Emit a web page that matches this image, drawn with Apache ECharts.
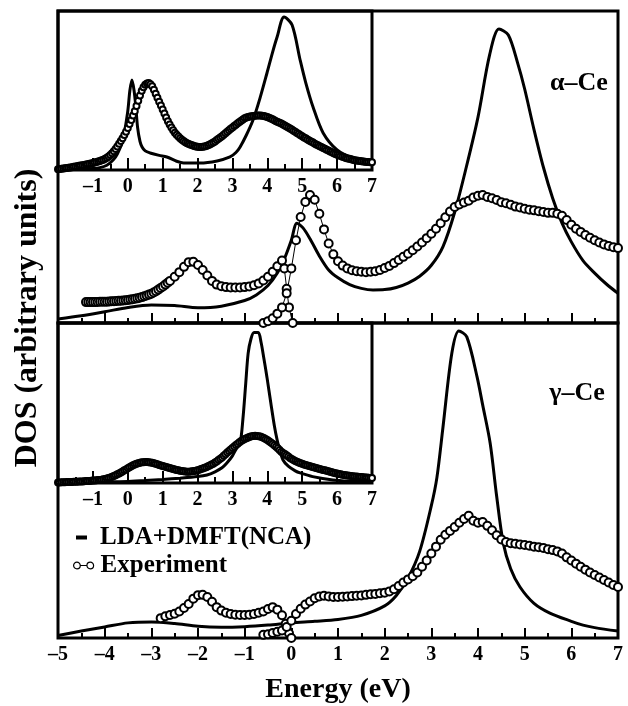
<!DOCTYPE html>
<html>
<head>
<meta charset="utf-8">
<script src="https://cdn.jsdelivr.net/npm/echarts@6/dist/echarts.min.js"></script>
<style>html,body{margin:0;padding:0;background:#fff}#c{width:628px;height:706px}</style>
</head>
<body>
<div id="c"></div>
<script>
// ---------- DATA (energy in eV, DOS in arbitrary units, 0-100 per panel) ----------
const mainTicks = [-5,-4,-3,-2,-1,0,1,2,3,4,5,6,7];
const insetTicks = [-1,0,1,2,3,4,5,6,7];

// alpha-Ce, main panel
const alphaTheory = [[-5,1.3],[-4.5,2.3],[-4,3.6],[-3.5,5.0],[-3,5.8],[-2.5,5.6],[-2,4.9],[-1.5,5.4],[-1,7.2],[-0.75,9.0],[-0.5,12.0],[-0.3,16.0],[-0.15,20.5],[0,26.5],[0.12,32.0],[0.25,30.5],[0.4,27.0],[0.6,21.5],[0.8,17.0],[1.0,14.5],[1.25,12.3],[1.5,11.1],[1.75,10.6],[2.0,10.7],[2.25,11.4],[2.5,12.8],[2.75,15.0],[3.0,18.5],[3.25,24.5],[3.5,35.5],[3.75,50],[4.0,66],[4.25,86],[4.45,94.2],[4.65,92.3],[4.85,83.3],[5.0,75],[5.2,62],[5.4,50],[5.6,40],[5.8,32],[6.0,26],[6.25,20],[6.5,16],[6.75,12.5],[7.0,9.5]];
const alphaExpA = [[-4.4,6.7],[-4.35,6.7],[-4.3,6.7],[-4.25,6.7],[-4.2,6.7],[-4.15,6.75],[-4.1,6.8],[-4.05,6.8],[-4.0,6.8],[-3.95,6.85],[-3.9,6.9],[-3.85,6.95],[-3.8,7.0],[-3.75,7.05],[-3.7,7.1],[-3.65,7.15],[-3.6,7.2],[-3.55,7.3],[-3.5,7.4],[-3.45,7.5],[-3.4,7.6],[-3.35,7.75],[-3.3,7.9],[-3.25,8.1],[-3.2,8.3],[-3.15,8.55],[-3.1,8.8],[-3.05,9.1],[-3.0,9.4],[-2.95,9.8],[-2.9,10.2],[-2.85,10.7],[-2.8,11.2],[-2.75,11.7],[-2.7,12.3],[-2.65,12.9],[-2.6,13.5],[-2.5,14.8],[-2.4,16.3],[-2.3,18.0],[-2.2,19.5],[-2.1,19.6],[-2.0,18.6],[-1.9,17.0],[-1.8,15.2],[-1.7,13.5],[-1.6,12.3],[-1.5,11.8],[-1.4,11.5],[-1.3,11.4],[-1.2,11.4],[-1.1,11.4],[-1.0,11.5],[-0.9,11.7],[-0.8,12.1],[-0.7,12.7],[-0.6,13.6],[-0.5,14.8],[-0.4,16.4],[-0.3,18.2],[-0.2,20.0],[-0.15,17.5],[-0.1,11.0],[-0.05,5.0],[0.03,0]];
const alphaExpB = [[-0.6,0],[-0.5,0.6],[-0.4,1.5],[-0.3,3.0],[-0.2,5.0],[-0.1,9.5],[0.0,17.5],[0.1,26.5],[0.2,34.0],[0.3,38.8],[0.4,41.0],[0.5,39.5],[0.6,35.0],[0.7,30.0],[0.8,25.5],[0.9,22.0],[1.0,19.8],[1.1,18.4],[1.2,17.5],[1.3,16.9],[1.4,16.6],[1.5,16.4],[1.6,16.3],[1.7,16.4],[1.8,16.6],[1.9,17.0],[2.0,17.6],[2.1,18.3],[2.2,19.2],[2.3,20.2],[2.4,21.2],[2.5,22.2],[2.6,23.3],[2.7,24.5],[2.8,25.8],[2.9,27.2],[3.0,28.6],[3.1,30.2],[3.2,32.0],[3.3,33.9],[3.4,35.7],[3.5,37.2],[3.6,38.0],[3.7,38.6],[3.8,39.2],[3.9,40.2],[4.0,40.8],[4.1,41.0],[4.2,40.4],[4.3,40.0],[4.4,39.4],[4.5,38.7],[4.6,38.4],[4.7,37.9],[4.8,37.3],[4.9,37.0],[5.0,36.6],[5.1,36.3],[5.2,36.1],[5.3,35.8],[5.4,35.6],[5.5,35.3],[5.6,35.3],[5.7,35.0],[5.8,34.4],[5.9,33.0],[6.0,31.5],[6.1,30.2],[6.2,29.2],[6.3,28.2],[6.4,27.3],[6.5,26.5],[6.6,25.8],[6.7,25.2],[6.8,24.7],[6.9,24.3],[7.0,24.0]];

// gamma-Ce, main panel
const gammaTheory = [[-5,0.8],[-4.5,2.2],[-4,3.5],[-3.5,4.8],[-3,5.1],[-2.5,4.6],[-2,3.7],[-1.5,3.4],[-1,3.6],[-0.5,4.1],[0,4.8],[0.5,5.3],[1.0,5.9],[1.5,7.2],[2.0,10.2],[2.25,13.5],[2.5,19],[2.75,27.5],[3.0,42],[3.12,51],[3.25,67],[3.44,90.5],[3.59,97.5],[3.76,95.6],[3.98,82.9],[4.1,74],[4.26,61.9],[4.4,45],[4.54,30.2],[4.7,22],[4.9,16.2],[5.2,11],[5.54,7.9],[6.0,5.3],[6.25,4.1],[6.5,3.3],[7.0,2.2]];
const gammaExpA = [[-2.8,6.3],[-2.7,6.9],[-2.6,7.3],[-2.5,7.7],[-2.4,8.4],[-2.3,9.5],[-2.2,10.8],[-2.1,12.5],[-2.0,13.6],[-1.9,13.7],[-1.8,13.0],[-1.7,11.5],[-1.6,9.8],[-1.5,8.7],[-1.4,8.0],[-1.3,7.6],[-1.2,7.4],[-1.1,7.3],[-1.0,7.3],[-0.9,7.4],[-0.8,7.6],[-0.7,8.0],[-0.6,8.4],[-0.5,9.2],[-0.4,9.8],[-0.3,9.0],[-0.2,7.2],[-0.12,4.5],[-0.05,1.5],[0.0,0]];
const gammaExpB = [[-0.6,1.0],[-0.5,1.2],[-0.4,1.6],[-0.3,2.0],[-0.2,2.4],[-0.1,3.5],[0.0,5.5],[0.1,7.6],[0.2,9.3],[0.3,10.6],[0.4,11.6],[0.5,12.6],[0.6,13.2],[0.7,13.4],[0.8,13.2],[0.9,13.0],[1.0,13.0],[1.1,13.1],[1.2,13.2],[1.3,13.3],[1.4,13.4],[1.5,13.5],[1.6,13.7],[1.7,13.9],[1.8,14.0],[1.9,14.2],[2.0,14.4],[2.1,14.8],[2.2,15.5],[2.3,16.5],[2.4,17.6],[2.5,18.6],[2.6,19.6],[2.7,20.8],[2.8,22.6],[2.9,24.6],[3.0,26.8],[3.1,29.0],[3.2,31.2],[3.3,32.8],[3.4,34.0],[3.5,35.2],[3.6,36.6],[3.7,37.8],[3.8,38.8],[3.9,37.2],[4.0,36.6],[4.1,36.8],[4.2,35.6],[4.3,34.2],[4.4,32.6],[4.5,31.3],[4.6,30.5],[4.7,30.1],[4.8,29.9],[4.9,29.7],[5.0,29.5],[5.1,29.3],[5.2,29.0],[5.3,28.8],[5.4,28.6],[5.5,28.2],[5.6,27.9],[5.7,27.5],[5.8,26.8],[5.9,25.6],[6.0,24.6],[6.1,23.6],[6.2,22.6],[6.3,21.7],[6.4,20.8],[6.5,20.0],[6.6,19.2],[6.7,18.4],[6.8,17.6],[6.9,16.8],[7.0,16.2]];

// alpha-Ce, inset
const alphaInsetTheory = [[-2,0],[-1.5,0.5],[-1.0,1.0],[-0.8,1.5],[-0.6,3.0],[-0.42,6.3],[-0.3,10],[-0.14,18.9],[0.0,37],[0.06,50],[0.12,56.6],[0.18,50],[0.23,40],[0.28,27],[0.35,18],[0.41,14.5],[0.5,12],[0.64,10.7],[0.9,9.2],[1.12,8.2],[1.4,5.5],[1.6,4.4],[2.07,4.4],[2.56,5.7],[2.93,8.2],[3.1,11],[3.22,14.5],[3.4,22],[3.59,31.4],[3.8,46],[3.99,61],[4.15,74],[4.28,83.6],[4.48,96.2],[4.71,91.2],[4.94,69.2],[5.1,55],[5.31,39.6],[5.6,23.3],[6.0,12.6],[6.45,7.5],[7.0,4.8]];
const alphaInsetExp = [[-2.0,0.5],[-1.95,0.65],[-1.9,0.8],[-1.85,0.95],[-1.8,1.1],[-1.75,1.25],[-1.7,1.4],[-1.65,1.6],[-1.6,1.8],[-1.55,2.0],[-1.5,2.2],[-1.45,2.4],[-1.4,2.6],[-1.35,2.8],[-1.3,3.0],[-1.25,3.2],[-1.2,3.4],[-1.15,3.65],[-1.1,3.9],[-1.05,4.15],[-1.0,4.4],[-0.95,4.7],[-0.9,5.0],[-0.85,5.35],[-0.8,5.7],[-0.75,6.1],[-0.7,6.5],[-0.65,7.1],[-0.6,7.7],[-0.55,8.5],[-0.5,9.4],[-0.45,10.5],[-0.4,11.8],[-0.35,13.2],[-0.3,14.8],[-0.25,16.5],[-0.2,18.2],[-0.15,20.0],[-0.1,22.0],[-0.05,24.1],[0.0,26.4],[0.05,28.9],[0.1,31.5],[0.15,34.2],[0.2,37.0],[0.25,40.2],[0.3,43.5],[0.35,46.8],[0.4,49.8],[0.45,52.0],[0.5,53.6],[0.55,54.4],[0.6,54.7],[0.65,54.0],[0.7,52.6],[0.75,50.5],[0.8,48.0],[0.85,45.5],[0.9,43.0],[0.95,40.5],[1.0,38.0],[1.05,35.5],[1.1,33.0],[1.15,30.7],[1.2,28.6],[1.25,26.7],[1.3,25.0],[1.35,23.5],[1.4,22.2],[1.45,21.0],[1.5,20.0],[1.55,19.1],[1.6,18.2],[1.65,17.5],[1.7,16.9],[1.75,16.4],[1.8,15.9],[1.85,15.5],[1.9,15.1],[1.95,14.8],[2.0,14.6],[2.05,14.5],[2.1,14.5],[2.15,14.6],[2.2,14.8],[2.25,15.1],[2.3,15.5],[2.35,16.0],[2.4,16.6],[2.45,17.3],[2.5,18.0],[2.55,18.8],[2.6,19.6],[2.65,20.4],[2.7,21.3],[2.75,22.2],[2.8,23.1],[2.85,24.0],[2.9,25.0],[2.95,25.9],[3.0,26.8],[3.05,27.7],[3.1,28.5],[3.15,29.4],[3.2,30.2],[3.25,31.0],[3.3,31.8],[3.35,32.5],[3.4,33.0],[3.45,33.3],[3.5,33.6],[3.55,33.8],[3.6,34.0],[3.65,34.1],[3.7,34.2],[3.75,34.2],[3.8,34.2],[3.85,34.1],[3.9,34.0],[3.95,33.7],[4.0,33.3],[4.05,32.9],[4.1,32.4],[4.15,31.9],[4.2,31.3],[4.25,30.7],[4.3,30.2],[4.35,29.7],[4.4,29.2],[4.45,28.6],[4.5,28.0],[4.55,27.4],[4.6,26.8],[4.65,26.1],[4.7,25.4],[4.75,24.7],[4.8,24.0],[4.85,23.3],[4.9,22.6],[4.95,21.9],[5.0,21.2],[5.05,20.5],[5.1,19.9],[5.15,19.2],[5.2,18.6],[5.25,18.0],[5.3,17.4],[5.35,16.7],[5.4,16.1],[5.45,15.5],[5.5,15.0],[5.55,14.4],[5.6,13.9],[5.65,13.3],[5.7,12.8],[5.75,12.2],[5.8,11.7],[5.85,11.1],[5.9,10.6],[5.95,10.1],[6.0,9.6],[6.05,9.2],[6.1,8.8],[6.15,8.4],[6.2,8.0],[6.25,7.6],[6.3,7.3],[6.35,7.0],[6.4,6.7],[6.45,6.4],[6.5,6.2],[6.55,6.0],[6.6,5.8],[6.65,5.6],[6.7,5.5],[6.75,5.3],[6.8,5.2],[6.85,5.1],[6.9,5.0],[6.95,4.9],[7.0,4.8]];

// gamma-Ce, inset
const gammaInsetTheory = [[-2,0.3],[-1.5,0.5],[-1.0,0.6],[-0.5,0.8],[0,1.0],[0.5,1.5],[1.0,2.2],[1.5,3.0],[2.0,4.0],[2.27,5.0],[2.5,7.0],[2.7,9.5],[2.84,12.5],[3.0,17],[3.1,21],[3.22,25],[3.3,40],[3.38,62],[3.45,81],[3.53,90],[3.62,94],[3.74,94],[3.82,88],[3.9,78],[3.99,66],[4.1,50],[4.2,36],[4.28,27],[4.35,21],[4.45,14.4],[4.6,10.5],[4.8,7.6],[4.94,6.3],[5.3,4.0],[5.88,1.9],[6.4,1.1],[7.0,0.6]];
const gammaInsetExp = [[-2.0,0.3],[-1.95,0.35],[-1.9,0.4],[-1.85,0.45],[-1.8,0.5],[-1.75,0.55],[-1.7,0.6],[-1.65,0.65],[-1.6,0.7],[-1.55,0.75],[-1.5,0.8],[-1.45,0.85],[-1.4,0.9],[-1.35,0.95],[-1.3,1.0],[-1.25,1.1],[-1.2,1.2],[-1.15,1.25],[-1.1,1.3],[-1.05,1.4],[-1.0,1.5],[-0.95,1.6],[-0.9,1.7],[-0.85,1.8],[-0.8,1.9],[-0.75,2.1],[-0.7,2.3],[-0.65,2.5],[-0.6,2.8],[-0.55,3.1],[-0.5,3.5],[-0.45,3.9],[-0.4,4.4],[-0.35,4.9],[-0.3,5.4],[-0.25,6.0],[-0.2,6.6],[-0.15,7.2],[-0.1,7.9],[-0.05,8.5],[0.0,9.2],[0.05,9.9],[0.1,10.5],[0.15,11.1],[0.2,11.6],[0.25,12.0],[0.3,12.4],[0.35,12.7],[0.4,12.9],[0.45,13.0],[0.5,13.1],[0.55,13.1],[0.6,13.0],[0.65,12.8],[0.7,12.6],[0.75,12.3],[0.8,12.0],[0.85,11.7],[0.9,11.3],[0.95,11.0],[1.0,10.6],[1.05,10.3],[1.1,10.0],[1.15,9.7],[1.2,9.4],[1.25,9.1],[1.3,8.8],[1.35,8.5],[1.4,8.2],[1.45,7.9],[1.5,7.7],[1.55,7.5],[1.6,7.3],[1.65,7.2],[1.7,7.1],[1.75,7.1],[1.8,7.2],[1.85,7.3],[1.9,7.5],[1.95,7.7],[2.0,8.0],[2.05,8.3],[2.1,8.7],[2.15,9.1],[2.2,9.5],[2.25,9.9],[2.3,10.4],[2.35,10.9],[2.4,11.5],[2.45,12.1],[2.5,12.8],[2.55,13.5],[2.6,14.3],[2.65,15.1],[2.7,16.0],[2.75,17.0],[2.8,18.0],[2.85,19.0],[2.9,20.0],[2.95,21.0],[3.0,21.9],[3.05,22.8],[3.1,23.7],[3.15,24.6],[3.2,25.4],[3.25,26.2],[3.3,26.9],[3.35,27.5],[3.4,28.0],[3.45,28.5],[3.5,28.9],[3.55,29.2],[3.6,29.4],[3.65,29.5],[3.7,29.4],[3.75,29.2],[3.8,29.0],[3.85,28.6],[3.9,28.1],[3.95,27.5],[4.0,26.8],[4.05,26.1],[4.1,25.3],[4.15,24.5],[4.2,23.6],[4.25,22.7],[4.3,21.7],[4.35,20.6],[4.4,19.6],[4.45,18.8],[4.5,18.1],[4.55,17.3],[4.6,16.5],[4.65,15.7],[4.7,15.0],[4.75,14.4],[4.8,13.8],[4.85,13.3],[4.9,12.8],[4.95,12.4],[5.0,12.0],[5.05,11.6],[5.1,11.3],[5.15,10.9],[5.2,10.6],[5.25,10.3],[5.3,10.0],[5.35,9.7],[5.4,9.4],[5.45,9.1],[5.5,8.8],[5.55,8.5],[5.6,8.2],[5.65,7.9],[5.7,7.6],[5.75,7.3],[5.8,7.0],[5.85,6.7],[5.9,6.4],[5.95,6.1],[6.0,5.9],[6.05,5.6],[6.1,5.4],[6.15,5.2],[6.2,5.0],[6.25,4.8],[6.3,4.7],[6.35,4.5],[6.4,4.4],[6.45,4.2],[6.5,4.1],[6.55,4.0],[6.6,3.9],[6.65,3.8],[6.7,3.7],[6.75,3.6],[6.8,3.5],[6.85,3.4],[6.9,3.3],[6.95,3.2],[7.0,3.1]];

const theoryName = 'LDA+DMFT(NCA)';
const expName = 'Experiment';
const panelLabels = ['α–Ce', 'γ–Ce'];

// ---------- CHART ----------
const FF = '"Liberation Serif", "Times New Roman", Times, serif';
const chart = echarts.init(document.getElementById('c'), null, {renderer: 'canvas', width: 628, height: 706});
const minus = v => String(v).replace('-', '–');

function xAx(gridIndex, min, ticks, showLabels, tickLen) {
  return {
    type: 'value', gridIndex, min, max: 7, interval: 1,
    axisLine: {show: false},
    axisTick: {show: true, inside: true, length: tickLen, lineStyle: {color: '#000', width: 2}},
    minorTick: {show: true, splitNumber: 2, length: Math.round(tickLen / 2), lineStyle: {color: '#000', width: 2}},
    splitLine: {show: false}, minorSplitLine: {show: false},
    axisLabel: {show: showLabels, margin: 7, color: '#000', fontFamily: FF, fontWeight: 'bold', fontSize: 20,
      showMinLabel: true, showMaxLabel: true,
      formatter: v => ticks.indexOf(v) >= 0 ? minus(v) : ''}
  };
}
function yAx(gridIndex) {
  return {type: 'value', gridIndex, min: 0, max: 100, show: false};
}
const gridBase = {show: true, borderColor: '#000', borderWidth: 3, backgroundColor: 'transparent'};

function theory(name, data, xi) {
  return {name, type: 'line', xAxisIndex: xi, yAxisIndex: xi, data, symbol: 'none', smooth: 0.3,
    lineStyle: {color: '#000', width: 3}, itemStyle: {color: '#000'}, z: 3};
}
function exp(name, data, xi, size) {
  return {name, type: 'line', xAxisIndex: xi, yAxisIndex: xi, data, symbol: 'emptyCircle', symbolSize: size,
    showAllSymbol: true, lineStyle: {color: '#000', width: 1}, itemStyle: {color: '#000', borderColor: '#000', borderWidth: 1}, z: 4};
}

const expIcon = 'path://M0,4A4,4 0 1,0 8,4A4,4 0 1,0 0,4ZM8,4L16,4M16,4A4,4 0 1,0 24,4A4,4 0 1,0 16,4Z';

chart.setOption({
  animation: false,
  backgroundColor: '#fff',
  textStyle: {fontFamily: FF},
  grid: [
    Object.assign({left: 58, top: 11, width: 560, height: 312}, gridBase),
    Object.assign({left: 58, top: 323, width: 560, height: 315}, gridBase),
    Object.assign({left: 58, top: 11, width: 314, height: 159}, gridBase),
    Object.assign({left: 58, top: 323, width: 314, height: 160}, gridBase),
    {left: 58, top: 11, width: 560, height: 614, show: false}
  ],
  xAxis: [
    xAx(0, -5, mainTicks, false, 10),
    Object.assign(xAx(1, -5, mainTicks, true, 10), {name: 'Energy (eV)', nameLocation: 'middle', nameGap: 38,
      nameTextStyle: {fontFamily: FF, fontWeight: 'bold', fontSize: 28, color: '#000'}}),
    xAx(2, -2, insetTicks, true, 12),
    xAx(3, -2, insetTicks, true, 12),
    {type: 'value', gridIndex: 4, min: 0, max: 1, show: false}
  ],
  yAxis: [
    yAx(0), yAx(1), yAx(2), yAx(3),
    {type: 'value', gridIndex: 4, min: 0, max: 1, name: 'DOS (arbitrary units)', nameLocation: 'middle', nameGap: 14,
      nameRotate: 90, axisLine: {show: false}, axisTick: {show: false}, axisLabel: {show: false}, splitLine: {show: false},
      nameTextStyle: {fontFamily: FF, fontWeight: 'bold', fontSize: 32, color: '#000'}}
  ],
  legend: [
    {data: [{name: theoryName, icon: 'rect'}], left: 76, top: 525, padding: 0, itemWidth: 11, itemHeight: 4,
      textStyle: {fontFamily: FF, fontWeight: 'bold', fontSize: 25, color: '#000', padding: [0, 0, 0, 8]},
      itemStyle: {color: '#000'}},
    {data: [{name: expName, icon: expIcon}], left: 73, top: 553, padding: 0, itemWidth: 20, itemHeight: 7,
      textStyle: {fontFamily: FF, fontWeight: 'bold', fontSize: 25, color: '#000', padding: [0, 0, 0, 2]},
      itemStyle: {color: '#fff', borderColor: '#000', borderWidth: 1.2}}
  ],
  graphic: [
    {type: 'text', x: 579, y: 83, style: {text: panelLabels[0], fontFamily: FF, fontWeight: 'bold', fontSize: 26, fill: '#000',
      align: 'center', verticalAlign: 'middle', textAlign: 'center', textVerticalAlign: 'middle'}},
    {type: 'text', x: 577, y: 393, style: {text: panelLabels[1], fontFamily: FF, fontWeight: 'bold', fontSize: 26, fill: '#000',
      align: 'center', verticalAlign: 'middle', textAlign: 'center', textVerticalAlign: 'middle'}}
  ],
  series: [
    theory(theoryName, alphaTheory, 0),
    exp(expName, alphaExpA, 0, 8),
    exp(expName, alphaExpB, 0, 8),
    theory(theoryName, gammaTheory, 1),
    exp(expName, gammaExpA, 1, 8),
    exp(expName, gammaExpB, 1, 8),
    theory(theoryName, alphaInsetTheory, 2),
    exp(expName, alphaInsetExp, 2, 6),
    theory(theoryName, gammaInsetTheory, 3),
    exp(expName, gammaInsetExp, 3, 6)
  ]
});
</script>
</body>
</html>
